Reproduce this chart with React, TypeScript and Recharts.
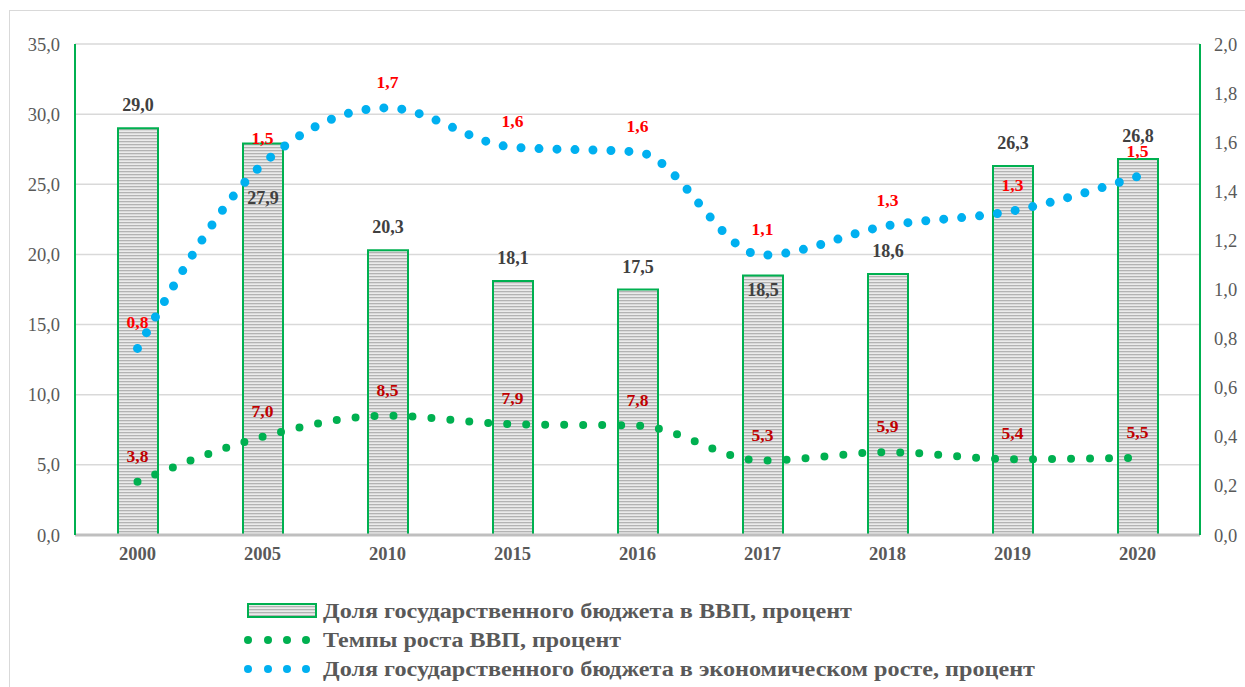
import React from "react"
import { Bar, ComposedChart, Line, XAxis, YAxis, CartesianGrid, LabelList } from "recharts"

const years = ["2000", "2005", "2010", "2015", "2016", "2017", "2018", "2019", "2020"]
const budgetShare = [29.0, 27.9, 20.3, 18.1, 17.5, 18.5, 18.6, 26.3, 26.8]
const gdpGrowth = [3.8, 7.0, 8.5, 7.9, 7.8, 5.3, 5.9, 5.4, 5.5]
const budgetInGrowth = [0.76, 1.51, 1.74, 1.58, 1.56, 1.14, 1.26, 1.32, 1.46]
const leftTicks = [0, 5, 10, 15, 20, 25, 30, 35]
const rightTicks = [0, 0.2, 0.4, 0.6, 0.8, 1.0, 1.2, 1.4, 1.6, 1.8, 2.0]

const seriesNames = [
  "Доля государственного бюджета в ВВП, процент",
  "Темпы роста ВВП, процент",
  "Доля государственного бюджета в экономическом росте, процент",
]

const data = years.map((y, i) => ({
  year: y,
  budget: budgetShare[i],
  growth: gdpGrowth[i],
  share: budgetInGrowth[i],
}))

const FONT = "'Liberation Serif', 'Times New Roman', serif"
const GREEN = "#00B050"
const BLUE = "#00B0F0"
const GREY_TEXT = "#595959"

const fmt = (v: number) => (Math.round(v * 10) / 10).toFixed(1).replace(".", ",")

// bar value labels: most sit above the bar, two are drawn inside the top
const BarValueLabel = (props: any) => {
  const { x, y, width, value, index } = props
  let cy = y - 23
  if (index === 1) cy = y + 54
  if (index === 5) cy = y + 15
  return (
    <text x={x + width / 2} y={cy + 6} textAnchor="middle" fontFamily={FONT} fontWeight="bold" fontSize={18} fill="#404040">
      {fmt(value)}
    </text>
  )
}

function LegendBox() {
  const dots = [248, 268, 287, 306]
  const txt = { fontFamily: FONT, fontWeight: "bold" as const, fontSize: 20, fill: GREY_TEXT }
  return (
    <svg width={1245} height={90} style={{ position: "absolute", left: 0, top: 597 }}>
      <rect x={248} y={7} width={68} height={13} fill="url(#stripes)" stroke={GREEN} strokeWidth={2} />
      <text x={323} y={21} {...txt} textLength={529} lengthAdjust="spacingAndGlyphs">{seriesNames[0]}</text>
      {dots.map((d) => <circle key={"g" + d} cx={d} cy={43} r={4} fill={GREEN} />)}
      <text x={323} y={50} {...txt} textLength={298} lengthAdjust="spacingAndGlyphs">{seriesNames[1]}</text>
      {dots.map((d) => <circle key={"b" + d} cx={d} cy={72} r={4} fill={BLUE} />)}
      <text x={323} y={79} {...txt} textLength={712} lengthAdjust="spacingAndGlyphs">{seriesNames[2]}</text>
    </svg>
  )
}

export default function App() {
  return (
    <div style={{ position: "absolute", left: 0, top: 0, width: 1245, height: 687, overflow: "hidden", background: "#fff" }}>
      <div style={{ position: "absolute", left: 9, top: 10, width: 1300, height: 700, border: "1.5px solid #d9d9d9" }} />
      <div style={{ position: "absolute", left: 0, top: 0 }}>
        <ComposedChart width={1245} height={687} data={data} margin={{ top: 44, right: 0, bottom: 122, left: 0 }} barCategoryGap={0}>
          <defs>
            <pattern id="stripes" patternUnits="userSpaceOnUse" width={8} height={3}>
              <rect x={0} y={0} width={8} height={3} fill="#ebebeb" />
              <rect x={0} y={0} width={8} height={1.3} fill="#b3b3b3" />
            </pattern>
          </defs>
          <CartesianGrid vertical={false} stroke="#d9d9d9" strokeWidth={1.5} yAxisId="left" />
          <XAxis dataKey="year" height={30} tickLine={false} tickSize={0} tickMargin={12}
            axisLine={{ stroke: "#bfbfbf", strokeWidth: 3 }}
            tick={{ fontFamily: FONT, fontWeight: "bold", fontSize: 18.5, fill: GREY_TEXT }} />
          <XAxis xAxisId="top" orientation="top" dataKey="year" height={0} tick={false} tickLine={false}
            axisLine={{ stroke: GREEN, strokeWidth: 2 }} />
          <YAxis yAxisId="left" width={75} domain={[0, 35]} ticks={leftTicks} tickLine={false} tickSize={0} tickMargin={15}
            axisLine={{ stroke: GREEN, strokeWidth: 2 }} tickFormatter={fmt}
            tick={{ fontFamily: FONT, fontSize: 18.5, fill: GREY_TEXT }} />
          <YAxis yAxisId="right" orientation="right" width={45} domain={[0, 2]} ticks={rightTicks} tickLine={false} tickSize={0} tickMargin={14}
            axisLine={{ stroke: GREEN, strokeWidth: 2 }} tickFormatter={fmt}
            tick={{ fontFamily: FONT, fontSize: 18.5, fill: GREY_TEXT, textAnchor: "start" }} />
          <Bar yAxisId="left" dataKey="budget" name={seriesNames[0]} barSize={40} fill="url(#stripes)" stroke={GREEN} strokeWidth={2} isAnimationActive={false}>
            <LabelList dataKey="budget" content={<BarValueLabel />} />
          </Bar>
          <Line yAxisId="left" type="monotone" dataKey="growth" name={seriesNames[1]} stroke={GREEN} strokeWidth={8}
            strokeDasharray="0 19" strokeLinecap="round" dot={false} activeDot={false} isAnimationActive={false}>
            <LabelList dataKey="growth" position="top" offset={20} formatter={(v: any) => fmt(v)}
              style={{ fontFamily: FONT, fontWeight: "bold", fontSize: 17.5, fill: "#C00000" }} />
          </Line>
          <Line yAxisId="right" type="monotone" dataKey="share" name={seriesNames[2]} stroke={BLUE} strokeWidth={9}
            strokeDasharray="0 18" strokeLinecap="round" dot={false} activeDot={false} isAnimationActive={false}>
            <LabelList dataKey="share" position="top" offset={20} formatter={(v: any) => fmt(v)}
              style={{ fontFamily: FONT, fontWeight: "bold", fontSize: 17.5, fill: "#FF0000" }} />
          </Line>
        </ComposedChart>
      </div>
      <LegendBox />
    </div>
  )
}
